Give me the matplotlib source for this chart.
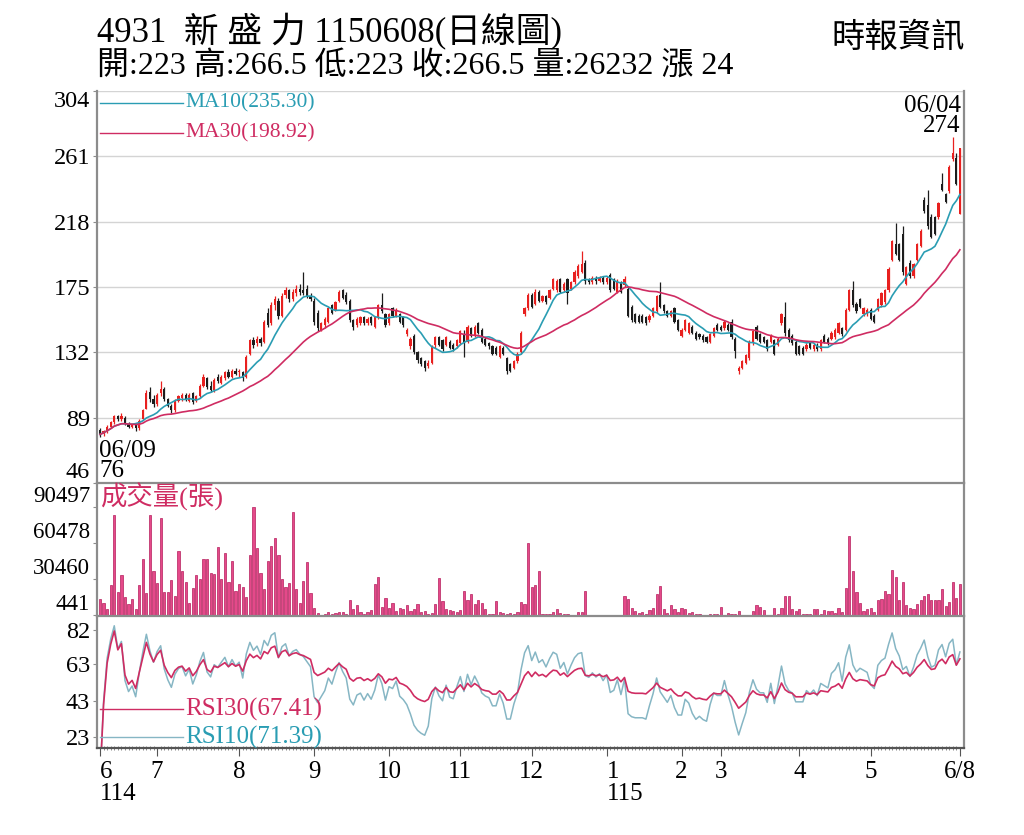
import numpy as np
import pandas as pd
import matplotlib
matplotlib.use('Agg')
import matplotlib.pyplot as plt

plt.rcParams['font.family'] = ['Liberation Serif', 'Noto Sans CJK TC']

# daily data, 114/06/09 .. 115/06/08
opens = [81, 78, 80, 83, 86, 90, 88, 89, 85, 83,
         84, 82, 88, 95, 106, 101, 98, 105, 108, 101,
         97, 94, 100, 102, 104, 100, 105, 100, 103, 110,
         115, 110, 107, 116, 112, 115, 119, 116, 120, 119,
         119, 116, 131, 140, 138, 141, 139, 158, 151, 163,
         166, 156, 170, 173, 167, 171, 174, 173, 174, 169,
         166, 158, 147, 150, 152, 163, 160, 166, 173, 170,
         166, 153, 150, 151, 155, 151, 155, 149, 155, 163,
         157, 151, 161, 156, 157, 155, 144, 136, 143, 132,
         128, 126, 123, 125, 137, 142, 140, 137, 139, 137,
         136, 138, 144, 139, 148, 143, 151, 147, 141, 138,
         136, 135, 129, 135, 128, 124, 122, 126, 132, 157,
         161, 170, 164, 172, 166, 169, 168, 174, 173, 180,
         173, 180, 174, 178, 182, 185, 191, 180, 178, 181,
         179, 181, 178, 183, 180, 172, 178, 176, 174, 162,
         157, 156, 156, 155, 153, 156, 159, 170, 163, 159,
         156, 161, 153, 143, 147, 145, 149, 145, 144, 143,
         142, 139, 143, 150, 149, 148, 150, 152, 141, 120,
         122, 125, 128, 138, 149, 144, 142, 140, 139, 140,
         137, 151, 155, 147, 143, 139, 136, 135, 134, 138,
         134, 137, 134, 143, 141, 141, 142, 145, 148, 147,
         160, 173, 164, 167, 157, 157, 160, 156, 160, 163,
         165, 173, 193, 203, 203, 210, 177, 191, 182, 193,
         202, 232, 229, 221, 221, 221, 243, 236, 238, 259,
         260, 223]
highs = [82, 81, 84, 87, 91, 91, 92, 90, 86, 85,
         85, 88, 95, 107, 109, 104, 105, 113, 109, 102,
         98, 101, 104, 105, 105, 105, 106, 104, 111, 118,
         116, 113, 115, 118, 117, 120, 121, 121, 122, 121,
         120, 130, 141, 142, 143, 142, 153, 161, 165, 169,
         168, 171, 175, 174, 174, 176, 177, 185, 176, 171,
         168, 160, 152, 155, 162, 164, 166, 173, 174, 172,
         167, 154, 155, 156, 156, 155, 156, 156, 164, 171,
         158, 158, 162, 161, 158, 156, 148, 142, 144, 133,
         129, 127, 127, 137, 143, 143, 141, 143, 140, 138,
         141, 147, 147, 150, 149, 150, 152, 148, 142, 139,
         137, 136, 137, 136, 129, 125, 127, 132, 146, 162,
         171, 171, 174, 173, 170, 170, 174, 181, 180, 181,
         178, 181, 179, 186, 190, 199, 193, 181, 182, 182,
         182, 182, 182, 184, 181, 180, 179, 182, 175, 163,
         158, 157, 157, 156, 157, 162, 170, 178, 164, 160,
         160, 162, 154, 148, 154, 152, 150, 146, 145, 144,
         143, 145, 149, 151, 150, 153, 151, 154, 142, 123,
         127, 131, 140, 147, 150, 145, 143, 141, 144, 141,
         142, 158, 165, 148, 144, 140, 137, 136, 138, 139,
         138, 138, 141, 144, 142, 146, 148, 152, 149, 161,
         174, 179, 165, 168, 162, 161, 161, 157, 168, 172,
         174, 188, 206, 217, 204, 215, 189, 193, 191, 204,
         213, 234, 239, 223, 222, 231, 250, 237, 255, 274,
         263, 266.5]
lows = [76, 77, 79, 82, 85, 87, 87, 84, 82, 82,
        80, 81, 88, 95, 99, 96, 97, 103, 100, 96,
        92, 93, 99, 100, 100, 99, 98, 99, 102, 109,
        108, 106, 106, 112, 111, 114, 115, 115, 117, 116,
        113, 115, 130, 135, 136, 136, 138, 149, 150, 160,
        154, 155, 168, 165, 166, 169, 170, 170, 168, 166,
        150, 146, 146, 148, 151, 157, 159, 165, 167, 164,
        152, 147, 149, 150, 150, 150, 150, 148, 154, 158,
        149, 150, 155, 155, 151, 149, 143, 134, 131, 125,
        123, 120, 122, 124, 135, 136, 133, 136, 134, 133,
        135, 137, 129, 138, 142, 142, 144, 138, 136, 134,
        130, 130, 128, 130, 118, 119, 121, 125, 131, 156,
        160, 161, 163, 165, 165, 164, 167, 173, 172, 171,
        172, 164, 173, 177, 181, 184, 177, 177, 177, 177,
        178, 177, 177, 172, 173, 171, 171, 175, 155, 152,
        151, 151, 151, 150, 152, 155, 158, 161, 158, 155,
        155, 151, 146, 142, 146, 144, 144, 140, 141, 139,
        138, 138, 142, 146, 146, 147, 146, 141, 128, 118,
        121, 124, 127, 137, 140, 138, 138, 133, 138, 130,
        136, 150, 143, 139, 137, 130, 130, 130, 133, 134,
        133, 133, 133, 138, 137, 140, 141, 144, 143, 146,
        159, 162, 158, 161, 156, 156, 153, 151, 159, 162,
        164, 172, 192, 196, 192, 183, 176, 181, 181, 192,
        201, 224, 213, 207, 209, 220, 238, 230, 237, 258,
        242, 223]
closes = [78, 80, 83, 86, 90, 88, 90, 85, 83, 84,
          82, 87, 94, 105, 101, 98, 104, 108, 101, 97,
          94, 100, 103, 104, 101, 104, 99, 103, 110, 116,
          109, 107, 114, 113, 116, 119, 116, 120, 118, 120,
          115, 129, 140, 137, 141, 138, 152, 150, 163, 167,
          156, 169, 173, 167, 172, 174, 172, 171, 169, 167,
          152, 148, 151, 154, 161, 158, 165, 172, 168, 165,
          153, 149, 154, 155, 151, 154, 151, 155, 163, 159,
          150, 157, 156, 160, 152, 150, 147, 141, 132, 127,
          124, 122, 125, 136, 142, 137, 134, 142, 135, 134,
          140, 146, 138, 149, 143, 149, 145, 139, 137, 136,
          131, 131, 136, 131, 120, 120, 126, 131, 145, 161,
          170, 162, 172, 166, 169, 165, 173, 180, 179, 172,
          177, 171, 178, 185, 189, 190, 179, 178, 181, 179,
          181, 178, 181, 173, 174, 179, 172, 180, 156, 153,
          152, 152, 152, 151, 156, 161, 169, 162, 159, 156,
          159, 152, 147, 147, 153, 151, 145, 141, 142, 140,
          139, 144, 148, 147, 147, 152, 147, 142, 133, 122,
          126, 130, 139, 146, 141, 139, 139, 134, 143, 131,
          141, 157, 145, 140, 138, 131, 131, 131, 137, 135,
          137, 134, 140, 139, 138, 145, 147, 151, 144, 160,
          173, 163, 159, 162, 161, 160, 154, 152, 167, 171,
          173, 187, 205, 197, 193, 185, 188, 182, 190, 203,
          212, 225, 215, 208, 210, 230, 239, 231, 254, 263,
          242.5, 266.5]
volumes = [14400, 11000, 6000, 25600, 83700, 19600, 34000, 16000, 9800, 14400,
           6200, 25500, 47500, 19000, 83700, 37500, 27000, 81000, 20000, 20000,
           30000, 17000, 54000, 37000, 28000, 10900, 23000, 34000, 30700, 47000,
           47000, 36000, 34800, 57000, 30700, 52400, 28000, 45600, 21000, 26600,
           23900, 15800, 50500, 90497, 56500, 36000, 22000, 46000, 57800, 65000,
           51000, 30700, 23900, 27000, 86000, 22500, 10900, 28800, 45000, 19000,
           6800, 2200, 800, 1400, 3000, 1600, 2700, 3500, 3000, 2000,
           13600, 6200, 9000, 3500, 2000, 3500, 5000, 26600, 32600, 7600,
           15000, 6800, 10900, 4000, 6800, 5400, 9500, 4000, 5700, 10300,
           3500, 4000, 2000, 2700, 9800, 31500, 12500, 5400, 5000, 4000,
           3500, 5000, 20600, 13000, 18500, 10300, 13000, 10900, 6200, 2000,
           2000, 12500, 3500, 2700, 2000, 2700, 2000, 3500, 11700, 10300,
           60300, 23900, 26000, 37500, 2000, 1400, 1400, 3500, 5400, 2700,
           1400, 1400, 1000, 800, 3500, 3500, 20600, 500, 441, 450,
           460, 470, 500, 800, 450, 460, 450, 16900, 14400, 7000,
           4000, 2700, 3500, 1600, 5000, 6800, 18500, 24500, 5400, 2700,
           9000, 5400, 3500, 7000, 5400, 2700, 3500, 2000, 1600, 800,
           800, 2000, 2000, 1600, 7600, 500, 2700, 2000, 2000, 4000,
           800, 800, 500, 4300, 9000, 7600, 5000, 800, 500, 7000,
           1600, 7000, 17000, 17000, 6200, 4300, 6200, 1600, 1600, 2000,
           6200, 6200, 2000, 5000, 4300, 4300, 2700, 7000, 3500, 23400,
           66600, 37300, 19800, 10900, 4300, 6200, 6800, 3500, 13000, 14400,
           21000, 17900, 38000, 32000, 13000, 28500, 9000, 6800, 5400, 10300,
           13600, 16300, 18500, 13000, 13000, 13000, 22000, 8400, 11700, 28000,
           15000, 26232]

month_starts = [0, 16, 39, 60, 81, 101, 121, 142, 163, 174, 196, 216, 241]
month_labels = ['6\n114', '7', '8', '9', '10', '11', '12', '1\n115', '2', '3', '4', '5', '6/8']
price_ticks = [46, 89, 132, 175, 218, 261, 304]
rsi_ticks = [23, 43, 63, 82]
low_date, high_date = '06/09', '06/04'

title = '4931  新 盛 力 1150608(日線圖)'
quote = '開:223 高:266.5 低:223 收:266.5 量:26232 漲 24'
ma_labels = ['MA10(235.30)', 'MA30(198.92)']
rsi_labels = ['RSI30(67.41)', 'RSI10(71.39)']

RED = '#e8201f'
BLACK = '#1c1c1c'
TEAL = '#2a9db3'
PINK = '#cf2c62'
RSI_TEAL = '#86b6c4'
GRAY = '#8c8c8c'

o = np.array(opens, float)
h = np.array(highs, float)
l = np.array(lows, float)
c = np.array(closes, float)
v = np.array(volumes, float)
idx = np.arange(len(c))

close = pd.Series(c)
ma10 = close.rolling(10, min_periods=1).mean()
ma30 = close.rolling(30, min_periods=1).mean()
# day-to-day change; the first day uses its own open as the reference
d = close.diff()
d.iloc[0] = c[0] - o[0]


def rsi(n):
    # Wilder smoothing
    up = d.clip(lower=0).ewm(alpha=1 / n, adjust=True).mean()
    dn = (-d.clip(upper=0)).ewm(alpha=1 / n, adjust=True).mean()
    return 100 * up / (up + dn)


rsi10 = rsi(10)
rsi30 = rsi(30)

fig = plt.figure(figsize=(10.24, 8.35), dpi=100)
L, W = 97 / 1024, 867 / 1024
ax = fig.add_axes([L, 1 - 483 / 835, W, 392 / 835])
axv = fig.add_axes([L, 1 - 616 / 835, W, 133 / 835])
axr = fig.add_axes([L, 1 - 748 / 835, W, 132 / 835])

for a in (ax, axv, axr):
    a.set_facecolor('none')
    a.set_xlim(-0.84, 242.15)
    a.spines['top'].set_visible(False)
    for s in ('left', 'right', 'bottom'):
        a.spines[s].set_color(GRAY)
        a.spines[s].set_linewidth(1.6)
    a.tick_params(axis='y', labelsize=17.5, length=3, pad=2, color=GRAY)
for a in (ax, axv):
    a.tick_params(axis='x', bottom=False, labelbottom=False)

# price panel
up = c >= o
cols = np.where(up, RED, BLACK)
ax.vlines(idx, l, h, colors=cols, lw=0.9, zorder=3)
ax.bar(idx, np.maximum(np.abs(c - o), 0.5), bottom=np.minimum(o, c), width=0.62,
       color=cols, linewidth=0, zorder=3)
ax.plot(idx, ma10, color=TEAL, lw=1.2, zorder=4)
ax.plot(idx, ma30, color=PINK, lw=1.2, zorder=4)
ax.set_ylim(46, 304)
ax.set_yticks(price_ticks)
ax.yaxis.grid(True, color='#d4d4d4', lw=1)
ax.set_axisbelow(True)
ylabels = ax.get_yticklabels()
ylabels[-1].set_va('top')
ylabels[0].set_va('bottom')

for lab, col, yy in zip(ma_labels, [TEAL, PINK], [0.969, 0.893]):
    ax.plot([0.0035, 0.099], [yy, yy], transform=ax.transAxes, color=col, lw=1)
    ax.text(0.1015, yy, lab, transform=ax.transAxes, va='center', ha='left',
            color=col, fontsize=15.5)

i_lo = int(np.argmin(l))
i_hi = int(np.argmax(h))
ax.annotate(f'{low_date}\n{l[i_lo]:g}', xy=(i_lo, l[i_lo]), xytext=(-1, -3),
            textcoords='offset pixels', ha='left', va='top', fontsize=18,
            linespacing=0.85, annotation_clip=False)
ax.annotate(f'{high_date}\n{h[i_hi]:g}', xy=(i_hi, h[i_hi]), xytext=(8, 0),
            textcoords='offset pixels', ha='right', va='bottom', fontsize=18,
            linespacing=0.85, multialignment='right', annotation_clip=False)

# volume panel
axv.bar(idx, v, width=0.62, color='#e5498a', edgecolor='#b51e5c', linewidth=0.5)
axv.set_ylim(0, v.max() * 1.22)
vt = np.linspace(v.min(), v.max(), 4)
axv.set_yticks(vt)
axv.set_yticklabels([f'{t:.0f}' for t in vt])
for t in axv.get_yticklabels():
    t.set_va('bottom')
    t.set_fontsize(16.5)
axv.text(0.0035, 0.895, '成交量(張)', transform=axv.transAxes, va='center', ha='left',
         color=PINK, fontsize=19)

# RSI panel
axr.plot(idx, rsi10, color=RSI_TEAL, lw=1.1)
axr.plot(idx, rsi30, color=PINK, lw=1.2)
axr.set_ylim(17, 89.7)
axr.set_yticks(rsi_ticks)
for lab, col, lcol, yy in zip(rsi_labels, [PINK, TEAL], [PINK, RSI_TEAL], [0.295, 0.083]):
    axr.plot([0.0035, 0.099], [yy, yy], transform=axr.transAxes, color=lcol, lw=1)
    axr.text(0.1015, yy, lab, transform=axr.transAxes, va='center', ha='left',
             color=col, fontsize=18)
axr.spines['bottom'].set_color('#555555')
axr.set_xticks(month_starts)
axr.set_xticklabels(month_labels, linespacing=1.0)
axr.set_xticks(idx, minor=True)
axr.tick_params(axis='x', which='major', length=6, labelsize=18, color='#555555', pad=3)
axr.tick_params(axis='x', which='minor', length=3, direction='inout', color='#777777', width=0.6)
for t in axr.get_xticklabels():
    t.set_va('top')
    if '\n' in t.get_text():
        t.set_ha('left')
        t.set_multialignment('left')

fig.text(L, 1 - 32 / 835, title, fontsize=25, va='center', ha='left')
fig.text(L, 1 - 67 / 835, quote, fontsize=23, va='center', ha='left')
fig.text(965 / 1024, 1 - 38 / 835, '時報資訊', fontsize=24, va='center', ha='right')

fig.savefig('out.png', dpi=100)
